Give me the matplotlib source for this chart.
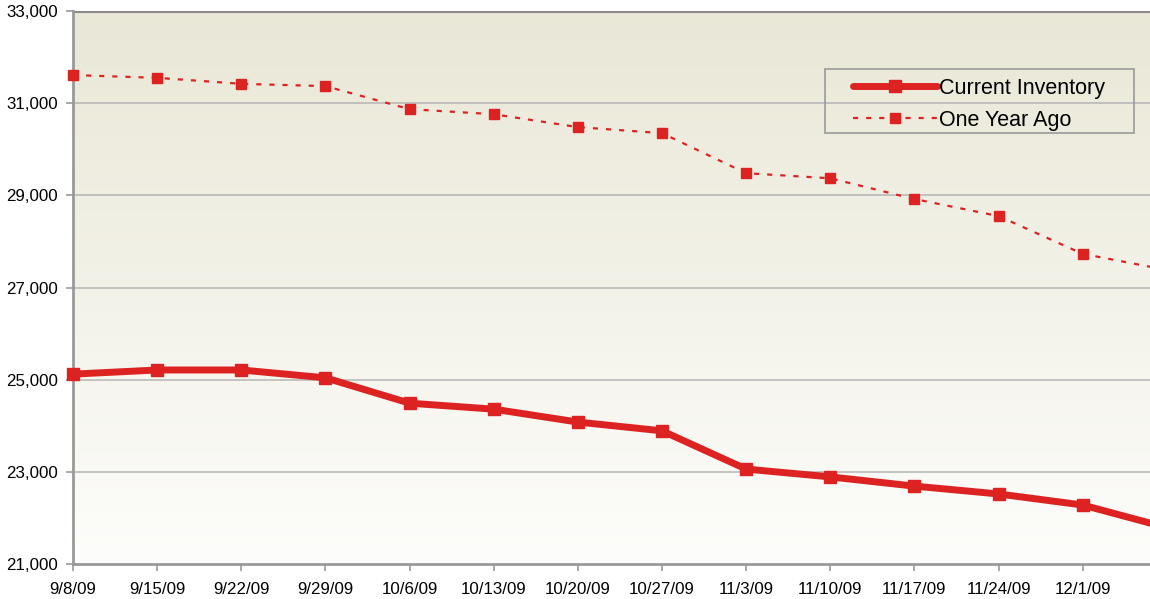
import matplotlib
matplotlib.use("Agg")
import matplotlib.pyplot as plt
from matplotlib.patches import Rectangle
import numpy as np

# weekly dates (last one is cut off by the right edge, no label)
dates = ["9/8/09", "9/15/09", "9/22/09", "9/29/09", "10/6/09", "10/13/09",
         "10/20/09", "10/27/09", "11/3/09", "11/10/09", "11/17/09",
         "11/24/09", "12/1/09", "12/8/09"]

current = [25120, 25210, 25210, 25040, 24490, 24360, 24080, 23890,
           23060, 22890, 22690, 22520, 22280, 21790]
year_ago = [31610, 31550, 31420, 31370, 30870, 30760, 30480, 30350,
            29480, 29370, 28920, 28550, 27730, 27380]

y_ticks = [21000, 23000, 25000, 27000, 29000, 31000, 33000]

red = "#DD2222"
plt.rcParams["font.family"] = ["Liberation Sans", "DejaVu Sans"]

W, H = 1150, 599
fig = plt.figure(figsize=(W / 100, H / 100), dpi=100)
ax = fig.add_axes([73 / W, 35 / H, 1077 / W, 553 / H])

x = np.arange(len(dates))

# background gradient, tan at top fading to near white
grad = np.linspace(0, 1, 256).reshape(-1, 1)
top = np.array([233, 231, 214]) / 255
bot = np.array([253, 253, 251]) / 255
img = top * (1 - grad[..., None]) + bot * grad[..., None]
img = np.repeat(img, 2, axis=1)
ax.imshow(img, extent=[0, 1, 0, 1], transform=ax.transAxes,
          aspect="auto", zorder=0)

for v in y_ticks[1:-1]:
    ax.axhline(v, color="#b4b4b4", lw=1.1, zorder=1)

ax.plot(x, current, color=red, lw=5, marker="s", ms=9,
        label="Current Inventory", zorder=3, clip_on=False,
        solid_capstyle="round")
ax.plot(x, year_ago, color=red, lw=1.6, marker="s", ms=7.5,
        dashes=(2.3, 3.6), label="One Year Ago", zorder=3, clip_on=False)

ax.set_xlim(0, 12.8)
ax.set_ylim(21000, 33000)
ax.set_yticks(y_ticks)
ax.set_yticklabels([f"{v:,}" for v in y_ticks])
ax.set_xticks(x[:-1])
ax.set_xticklabels(dates[:-1])

ax.tick_params(axis="both", labelsize=12.2, colors="#999999",
               labelcolor="black", length=5, width=1.2)
ax.tick_params(axis="y", pad=6)
ax.tick_params(axis="x", pad=8)

for s in ["top", "right"]:
    ax.spines[s].set_visible(False)
ax.axhline(33000, color="#8a8a8a", lw=2.2, zorder=2)
for s in ["left", "bottom"]:
    ax.spines[s].set_color("#999999")
    ax.spines[s].set_linewidth(2)

# legend box drawn separately so the padding can match the original
fig.patches.append(Rectangle((825 / W, 1 - 133 / H), 309 / W, 64 / H,
                             transform=fig.transFigure, fill=False,
                             edgecolor="#9a9a9a", lw=1.2, zorder=5))
leg = ax.legend(loc="upper left", bbox_to_anchor=(853 / W, 1 - 78 / H),
                bbox_transform=fig.transFigure, fontsize=15.5, frameon=False,
                handlelength=3.9, borderpad=0, labelspacing=0.5,
                handletextpad=0.1, borderaxespad=0)

fig.savefig("out.png", dpi=100)
